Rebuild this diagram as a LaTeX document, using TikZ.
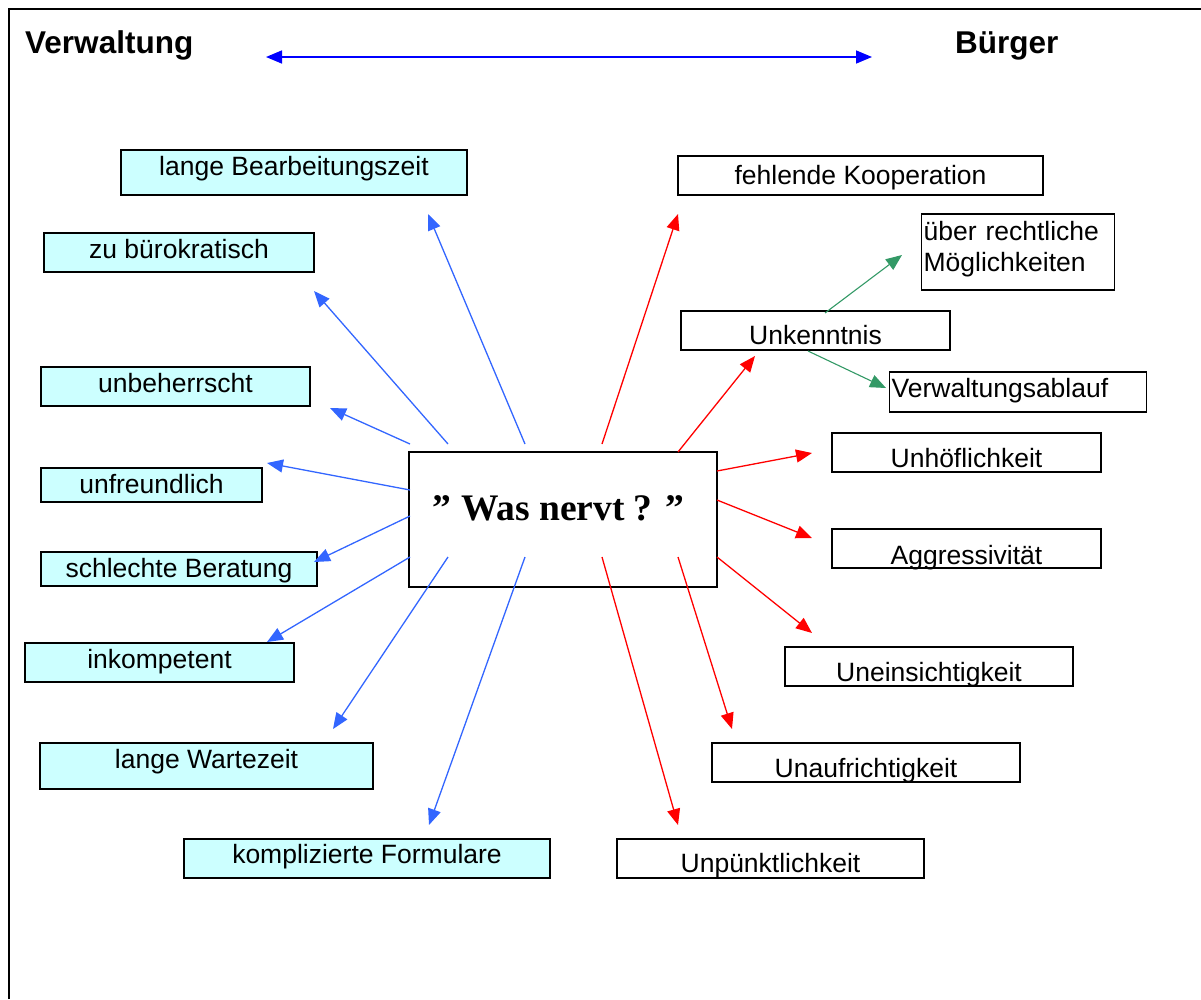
\documentclass[tikz,border=0pt]{standalone}
\usepackage{fontspec}
\setmainfont{Liberation Serif}
\setsansfont{Liberation Sans}
\usetikzlibrary{arrows.meta}

\definecolor{hellcyan}{RGB}{204,255,255}
\definecolor{pfeilblau}{RGB}{51,102,255}
\definecolor{pfeilgruen}{RGB}{51,153,102}
\newcommand{\kastenschrift}{\fontsize{26.5pt}{31pt}\selectfont\sffamily}
\newcommand{\titelschrift}{\fontsize{31.5pt}{34pt}\selectfont\sffamily\bfseries}

\tikzset{
	links/.style={draw, line width=1.3pt, fill=hellcyan, font=\kastenschrift, inner sep=0pt, anchor=base},
	rechts/.style={draw, line width=1.3pt, fill=white, font=\kastenschrift, inner sep=0pt, anchor=base},
	spitze/.style={-{Triangle[length=16pt,width=13pt]}},
	blaupfeil/.style={spitze, draw=pfeilblau, line width=1.3pt},
	rotpfeil/.style={spitze, draw=red, line width=1.3pt},
	gruenpfeil/.style={spitze, draw=pfeilgruen, line width=1.1pt}
}

\begin{document}
\begin{tikzpicture}[x=1pt, y=-1pt]
			\useasboundingbox (0,0) rectangle (1201,999);
			\draw[line width=1.5pt] (9,999) -- (9,9) -- (1201,9);

			\draw (25, 53) 	node[anchor=base west, inner sep=0pt, font=\titelschrift] 	(verwaltung) 	{Verwaltung};
			\draw (955, 53) node[anchor=base west, inner sep=0pt, font=\titelschrift] 	(buerger) 	{Bürger};
			\coordinate (oben-l) at (266, 57);
			\coordinate (oben-r) at (872, 57);

			\draw (563, 520) node[draw, line width=1.3pt, fill=white, inner sep=0pt, anchor=base, minimum width=308pt, text height=68pt, text depth=67pt, font=\fontsize{37.5pt}{40pt}\selectfont\bfseries] (nervt) {” Was nervt ? ”\hspace*{9pt}};

			% Verwaltung
			\draw (294, 175) 	node[links, minimum width=346pt, text height=25pt, text depth=20pt] 	(bearbeitung) 	{lange Bearbeitungszeit};
			\draw (179, 258) 	node[links, minimum width=270pt, text height=25pt, text depth=14pt] 	(buerokratisch) {zu bürokratisch};
			\draw (175.5, 392) 	node[links, minimum width=269pt, text height=25pt, text depth=14pt] 	(unbeherrscht) 	{unbeherrscht};
			\draw (151.5, 493) 	node[links, minimum width=221pt, text height=25pt, text depth=9pt] 	(unfreundlich) 	{unfreundlich};
			\draw (179, 577) 	node[links, minimum width=276pt, text height=25pt, text depth=9pt] 	(beratung) 	{schlechte Beratung};
			\draw (159.5, 668) 	node[links, minimum width=269pt, text height=25pt, text depth=14pt] 	(inkompetent) 	{inkompetent};
			\draw (206.5, 768) 	node[links, minimum width=333pt, text height=25pt, text depth=21pt] 	(wartezeit) 	{lange Wartezeit};
			\draw (367, 863) 	node[links, minimum width=366pt, text height=24pt, text depth=15pt] 	(formulare) 	{komplizierte Formulare};

			% Buerger
			\draw (860.5, 184) 	node[rechts, minimum width=365pt, text height=28pt, text depth=11pt] 	(kooperation) 	{fehlende Kooperation};
			\draw (921, 240) 	node[rechts, anchor=base west, inner xsep=2pt, text width=189pt, align=left, text height=26pt, text depth=50pt] 	(rechtlich) {über rechtliche\\Möglichkeiten};
			\draw (815.5, 344) 	node[rechts, minimum width=269pt, text height=33pt, text depth=6pt] 	(unkenntnis) 	{Unkenntnis};
			\draw (889, 397) 	node[rechts, anchor=base west, inner xsep=2pt, text width=253pt, align=left, text height=25pt, text depth=15pt] 	(ablauf) {Verwaltungsablauf};
			\draw (966.5, 467) 	node[rechts, minimum width=269pt, text height=34pt, text depth=5pt] 	(unhoeflich) 	{Unhöflichkeit};
			\draw (966.5, 564) 	node[rechts, minimum width=269pt, text height=35pt, text depth=4pt] 	(aggressiv) 	{Aggressivität};
			\draw (929, 681) 	node[rechts, minimum width=288pt, text height=34pt, text depth=5pt] 	(uneinsichtig) 	{Uneinsichtigkeit};
			\draw (866, 777) 	node[rechts, minimum width=308pt, text height=34pt, text depth=5pt] 	(unaufrichtig) 	{Unaufrichtigkeit};
			\draw (770.5, 872) 	node[rechts, minimum width=307pt, text height=33pt, text depth=6pt] 	(unpuenktlich) 	{Unpünktlichkeit};

			% Pfeilenden
			\coordinate (bearbeitung-s) at (525, 444); 	\coordinate (bearbeitung-t) at (428, 214);
			\coordinate (buerokratisch-s) at (448, 444); 	\coordinate (buerokratisch-t) at (314, 291);
			\coordinate (unbeherrscht-s) at (410, 444); 	\coordinate (unbeherrscht-t) at (330, 408);
			\coordinate (unfreundlich-s) at (410, 490); 	\coordinate (unfreundlich-t) at (267, 463);
			\coordinate (beratung-s) at (410, 516); 	\coordinate (beratung-t) at (314, 562);
			\coordinate (inkompetent-s) at (410, 557); 	\coordinate (inkompetent-t) at (267, 642);
			\coordinate (wartezeit-s) at (448, 557); 	\coordinate (wartezeit-t) at (333, 729);
			\coordinate (formulare-s) at (525, 557); 	\coordinate (formulare-t) at (429, 825);
			\coordinate (kooperation-s) at (602, 444); 	\coordinate (kooperation-t) at (678, 214);
			\coordinate (unkenntnis-s) at (678, 452); 	\coordinate (unkenntnis-t) at (755, 356);
			\coordinate (unhoeflich-s) at (717, 471); 	\coordinate (unhoeflich-t) at (812, 453);
			\coordinate (aggressiv-s) at (717, 500); 	\coordinate (aggressiv-t) at (812, 538);
			\coordinate (uneinsichtig-s) at (717, 557); 	\coordinate (uneinsichtig-t) at (812, 633);
			\coordinate (unaufrichtig-s) at (678, 557); 	\coordinate (unaufrichtig-t) at (732, 729);
			\coordinate (unpuenktlich-s) at (602, 557); 	\coordinate (unpuenktlich-t) at (678, 825);
			\coordinate (rechtlich-s) at (825, 313); 	\coordinate (rechtlich-t) at (902, 255);
			\coordinate (ablauf-s) at (808, 351); 		\coordinate (ablauf-t) at (886, 388);

			\draw[{Triangle[length=16pt,width=13pt]}-{Triangle[length=16pt,width=13pt]}, draw=blue, line width=1.6pt] (oben-l) -- (oben-r);

			\draw[blaupfeil] (bearbeitung-s) -- (bearbeitung-t);
			\draw[blaupfeil] (buerokratisch-s) -- (buerokratisch-t);
			\draw[blaupfeil] (unbeherrscht-s) -- (unbeherrscht-t);
			\draw[blaupfeil] (unfreundlich-s) -- (unfreundlich-t);
			\draw[blaupfeil] (beratung-s) -- (beratung-t);
			\draw[blaupfeil] (inkompetent-s) -- (inkompetent-t);
			\draw[blaupfeil] (wartezeit-s) -- (wartezeit-t);
			\draw[blaupfeil] (formulare-s) -- (formulare-t);

			\draw[rotpfeil] (kooperation-s) -- (kooperation-t);
			\draw[rotpfeil] (unkenntnis-s) -- (unkenntnis-t);
			\draw[rotpfeil] (unhoeflich-s) -- (unhoeflich-t);
			\draw[rotpfeil] (aggressiv-s) -- (aggressiv-t);
			\draw[rotpfeil] (uneinsichtig-s) -- (uneinsichtig-t);
			\draw[rotpfeil] (unaufrichtig-s) -- (unaufrichtig-t);
			\draw[rotpfeil] (unpuenktlich-s) -- (unpuenktlich-t);

			\draw[gruenpfeil] (rechtlich-s) -- (rechtlich-t);
			\draw[gruenpfeil] (ablauf-s) -- (ablauf-t);
		\end{tikzpicture}
\end{document}
